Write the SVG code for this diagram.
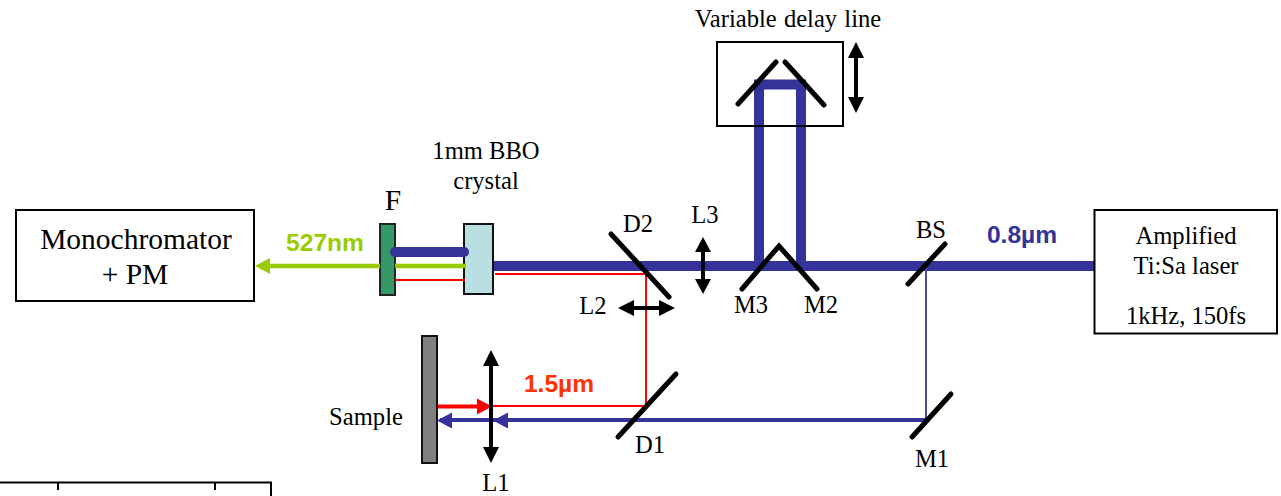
<svg xmlns="http://www.w3.org/2000/svg" width="1281" height="496" viewBox="0 0 1281 496">
<defs><style>
text{font-family:"Liberation Serif",serif;fill:#000;text-anchor:middle}
.t{font-size:24.6px}.big{font-size:29.500px}
.bl{font-family:"Liberation Sans",sans-serif;font-weight:bold;font-size:24.600px}
.box{fill:#fff;stroke:#000;stroke-width:2}
.m{stroke:#000;stroke-width:5;stroke-linecap:round;fill:none}
.b{stroke:#333399;fill:none}
.r{stroke:#ff0000;fill:none;stroke-width:2}
.k{fill:#000}
.ls{stroke:#000;stroke-width:4;fill:none}
</style></defs>
<rect width="1281" height="496" fill="#fff"/>
<g id="F"><rect x="380" y="224" width="15" height="71" fill="#339966" stroke="#222" stroke-width="2"/><text class="big" x="393" y="210">F</text></g>
<g id="crystal"><rect x="464" y="224" width="29" height="70" fill="#b9dfe3" stroke="#111" stroke-width="2"/><text class="t" x="486" y="159">1mm BBO</text><text class="t" x="486" y="189">crystal</text></g>
<g id="connectors">
<path class="b" stroke-width="10" d="M1094 266H494"/>
<circle cx="1094" cy="266" r="5" fill="#333399"/>
<path class="b" stroke-width="10" d="M759 266V84.500H801V266"/>
<path class="b" stroke-width="10" stroke-linecap="round" d="M395 252H464"/>
<path stroke="#4848a8" fill="none" stroke-width="2" d="M926 266V420"/>
<path class="b" stroke-width="4" d="M926 420H440"/>
<path fill="#333399" d="M437 420.500L452 412.500V428.500Z"/>
<path fill="#333399" d="M493 420.500L508 412.500V428.500Z"/>
<path class="r" d="M495 274H646V406H492M395 280H465"/>
<path stroke="#ff0000" stroke-width="4" d="M436 406.500H478"/>
<path fill="#ff0000" d="M492 406.500L477 398.500V414.500Z"/>
<path stroke="#99cc00" stroke-width="4.500" d="M466 266H395"/>
<path stroke="#99cc00" stroke-width="4.500" d="M380 266H268"/>
<path fill="#99cc00" d="M255 266L270 258V274Z"/>
</g>
<g id="monochromator"><rect class="box" x="16" y="210" width="238" height="91"/><text class="big" x="136" y="249">Monochromator</text><text class="big" x="135" y="284">+ PM</text></g>
<g id="laser"><rect class="box" x="1094.500" y="210" width="182.500" height="123.500"/><text class="t" x="1186" y="244">Amplified</text><text class="t" x="1186" y="274">Ti:Sa laser</text><text class="t" x="1186" y="324">1kHz, 150fs</text></g>
<g id="delay"><rect x="717" y="42" width="126" height="84" fill="none" stroke="#000" stroke-width="2"/><text class="t" x="788" y="27" style="word-spacing:1px">Variable delay line</text>
<path class="m" d="M738 104L776 62M785 62L824 105"/>
<path class="ls" d="M856 55V100"/><path class="k" d="M856 42L864 58H848ZM856 113L848 97H864Z"/></g>
<g id="D2"><path class="m" d="M611 234L669 297"/><text class="t" x="638" y="232">D2</text></g>
<g id="L3"><path class="ls" d="M703 248V284"/><path class="k" d="M703 237L711 252H695ZM703 294L695 279H711Z"/><text class="t" x="705" y="223">L3</text></g>
<g id="M3M2"><path class="m" d="M742 289L779 246L817 289"/><text class="t" x="751" y="313">M3</text><text class="t" x="821" y="313">M2</text></g>
<g id="L2"><path class="ls" d="M630 308H665"/><path class="k" d="M618 308L634 300V316ZM675 308L659 316V300Z"/><text class="t" x="593" y="314">L2</text></g>
<g id="BS"><path class="m" d="M908 284L945 244"/><text class="t" x="931" y="238">BS</text></g>
<g id="D1"><path class="m" d="M618 437L676 374"/><text class="t" x="650" y="453">D1</text></g>
<g id="M1"><path class="m" d="M912 437L951 394"/><text class="t" x="932" y="467">M1</text></g>
<g id="sample"><rect x="422" y="336" width="15" height="127" fill="#808080" stroke="#111" stroke-width="2"/><text class="t" x="366" y="425">Sample</text></g>
<g id="L1"><path class="ls" d="M491 360V452"/><path class="k" d="M491 350L499 366H483ZM491 463L483 447H499Z"/><text class="t" x="496" y="490.500">L1</text></g>
<g id="labels"><text class="bl" x="325" y="251" style="fill:#99cc00">527nm</text><text class="bl" x="559" y="392" style="fill:#ff3300">1.5µm</text><text class="bl" x="1022" y="243" style="fill:#333399">0.8µm</text></g>
<g id="axis"><path d="M0 482.500H272M271 482.500V496M58 482V490M215 482V490" fill="none" stroke="#000" stroke-width="2"/></g>
</svg>
